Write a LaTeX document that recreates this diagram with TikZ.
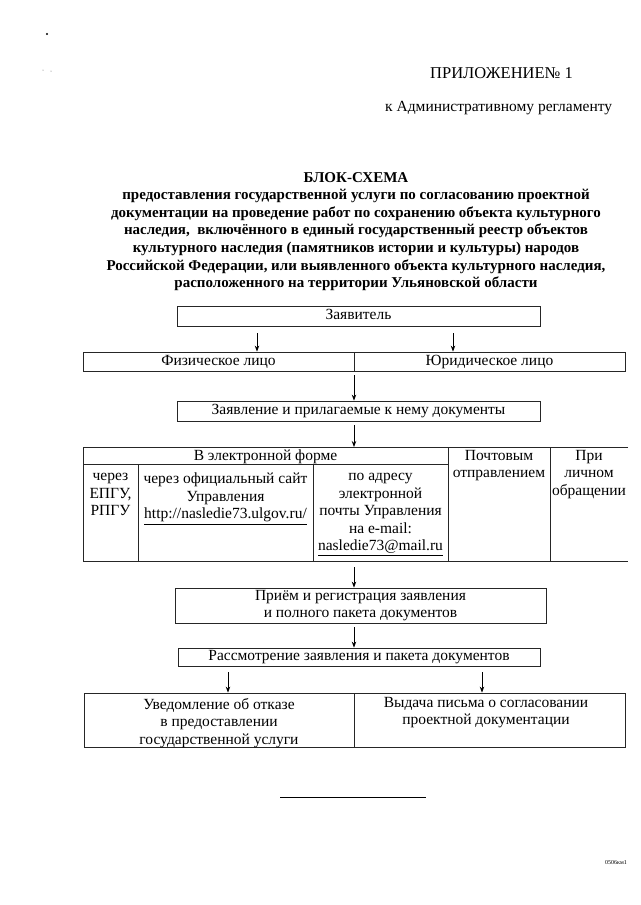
\documentclass[tikz,border=0pt]{standalone}
\usepackage{fontspec}
\setmainfont{Liberation Serif}
\usetikzlibrary{arrows.meta,calc}
\begin{document}
\begin{tikzpicture}[x=1pt,y=-1pt,
  box/.style={draw=black!85, line width=0.8pt, inner sep=0pt, font=\fontsize{15.5}{17.5}\selectfont},
  onel/.style={text height=10.5pt, text depth=3.5pt},
  arr/.style={draw=black, line width=0.9pt, -{Stealth[length=6pt,width=4.5pt]}},
  cell/.style={inner sep=0pt, anchor=north, align=center, font=\fontsize{15.5}{17.5}\selectfont},
  grid/.style={draw=black!85, line width=0.8pt}]
\useasboundingbox[fill=white] (0,0) rectangle (640,905);
% scan specks
\fill (47,34) circle (1.1pt);
\fill[black!60] (43,70) circle (0.5pt);
\fill[black!60] (51,71) circle (0.5pt);
% header
\node[anchor=base west, inner sep=0pt, font=\fontsize{16.5}{18}\selectfont] (app) at (430,78) {ПРИЛОЖЕНИЕ№ 1};
\node[anchor=base west, inner sep=0pt, font=\fontsize{15.5}{17.5}\selectfont] (reg) at (385,111) {к Административному регламенту};
% title
\node[anchor=north, inner sep=0pt, align=center, font=\bfseries\fontsize{15}{17.6}\selectfont] (title) at (356,172)
 {БЛОК-СХЕМА\\
 предоставления государственной услуги по согласованию проектной\\
 документации на проведение работ по сохранению объекта культурного\\
 наследия,\ \ включённого в единый государственный реестр объектов\\
 культурного наследия (памятников истории и культуры) народов\\
 Российской Федерации, или выявленного объекта культурного наследия,\\
 расположенного на территории Ульяновской области};
% boxes
\node[box, onel, minimum width=363pt, minimum height=20pt] (zayav) at (358.5,316) {Заявитель};
\node[box, onel, minimum width=271pt, minimum height=19pt] (fiz) at (218.5,361.5) {Физическое лицо};
\node[box, onel, minimum width=271pt, minimum height=19pt] (yur) at (489.5,361.5) {Юридическое лицо};
\node[box, onel, minimum width=363pt, minimum height=20pt] (zdoc) at (358.5,411) {Заявление и прилагаемые к нему документы};
% table
\draw[grid] (628,447) -- (83,447) -- (83,561) -- (628,561);
\draw[grid] (83,464) -- (448,464);
\draw[grid] (138,464) -- (138,561);
\draw[grid] (313,464) -- (313,561);
\draw[grid] (448,447) -- (448,561);
\draw[grid] (550,447) -- (550,561);
\coordinate (tabtop) at (354,447);
\coordinate (tabbot) at (354,561);
\node[cell] (el) at (265.5,450) {В электронной форме};
\node[cell] (c1) at (110.5,473) {через\\ЕПГУ,\\РПГУ};
\node[cell] (c2) at (225.5,473) {через официальный сайт\\Управления\\\underline{http://nasledie73.ulgov.ru/}};
\node[cell] (c3) at (380.5,473) {по адресу\\электронной\\почты Управления\\на e-mail:\\\underline{nasledie73@mail.ru}};
\node[cell] (c4) at (499,450) {Почтовым\\отправлением};
\node[cell] (c5) at (589,450) {При\\личном\\обращении};
% lower boxes
\node[box, minimum width=371pt, minimum height=35pt, align=center] (priem) at (360.5,605.5) {Приём и регистрация заявления\\и полного пакета документов};
\node[box, onel, minimum width=362pt, minimum height=18pt] (rass) at (359,657) {Рассмотрение заявления и пакета документов};
\node[box, minimum width=270pt, minimum height=54pt] (otk) at (219,720) {};
\node[box, minimum width=271pt, minimum height=54pt] (vyd) at (489.5,720) {};
\node[cell] (otkt) at (219,698) {Уведомление об отказе\\в предоставлении\\государственной услуги};
\node[cell] (vydt) at (486,697) {Выдача письма о согласовании\\проектной документации};
% arrows
\coordinate (xa) at (257,0);
\coordinate (xb) at (453,0);
\coordinate (xc) at (354,0);
\coordinate (xd) at (228,0);
\coordinate (xe) at (482,0);
\draw[arr] ($(zayav.south -| xa)+(0,7)$) -- (fiz.north -| xa);
\draw[arr] ($(zayav.south -| xb)+(0,7)$) -- (yur.north -| xb);
\draw[arr] ($(fiz.south -| xc)+(0,4)$) -- (zdoc.north -| xc);
\draw[arr] ($(zdoc.south -| xc)+(0,4)$) -- (tabtop);
\draw[arr] ($(tabbot)+(0,6)$) -- (priem.north -| xc);
\draw[arr] ($(priem.south -| xc)+(0,4)$) -- (rass.north -| xc);
\draw[arr] ($(rass.south -| xd)+(0,6)$) -- (otk.north -| xd);
\draw[arr] ($(rass.south -| xe)+(0,6)$) -- (vyd.north -| xe);
% footer
\draw[line width=0.8pt] (280,797) coordinate (fl) -- (426,797) coordinate (fr);
\node[anchor=base east, inner sep=0pt, font=\fontsize{6}{7}\selectfont] (code) at (627,864) {0506км1};
\end{tikzpicture}
\end{document}
